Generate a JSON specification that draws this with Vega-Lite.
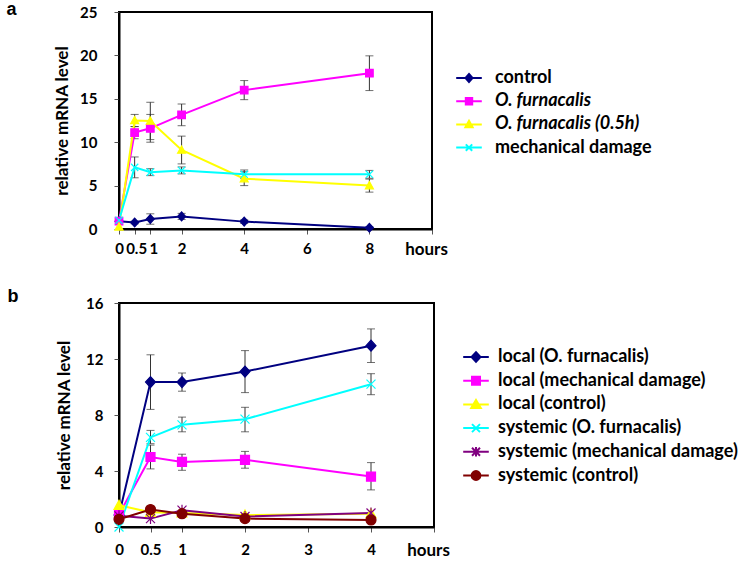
{
"$schema": "https://vega.github.io/schema/vega-lite/v6.json",
"padding": {"left": 5, "top": 0, "right": 0, "bottom": 0},
"spacing": 29,
"config": {
  "font": "Lato",
  "view": {"stroke": "#000", "strokeWidth": 2},
  "axis": {"labelFont": "Lato", "labelFontSize": 15, "labelFontWeight": "bold", "labelColor": "#000", "titleFont": "Lato", "titleFontSize": 17, "titleFontWeight": "bold", "titleColor": "#000", "domainColor": "#000", "domainWidth": 2, "tickColor": "#555", "tickSize": 5, "grid": false, "labelOverlap": false, "labelFlush": false},
  "title": {"font": "Liberation Sans", "fontSize": 18, "fontWeight": "bold", "color": "#000"}
},
"datasets": {
  "a": [
    {"series": "control", "t": 0, "v": 0.9},
    {"series": "control", "t": 0.5, "v": 0.75, "lo": 0.6, "hi": 0.9},
    {"series": "control", "t": 1, "v": 1.15, "lo": 0.55, "hi": 1.75},
    {"series": "control", "t": 2, "v": 1.45, "lo": 1.1, "hi": 1.8},
    {"series": "control", "t": 4, "v": 0.85, "lo": 0.65, "hi": 1.05},
    {"series": "control", "t": 8, "v": 0.15, "lo": 0.05, "hi": 0.25},
    {"series": "O. furnacalis", "t": 0, "v": 0.9},
    {"series": "O. furnacalis", "t": 0.5, "v": 11.1, "lo": 10.4, "hi": 11.8},
    {"series": "O. furnacalis", "t": 1, "v": 11.6, "lo": 10.0, "hi": 13.2},
    {"series": "O. furnacalis", "t": 2, "v": 13.15, "lo": 11.9, "hi": 14.4},
    {"series": "O. furnacalis", "t": 4, "v": 16.0, "lo": 14.9, "hi": 17.1},
    {"series": "O. furnacalis", "t": 8, "v": 17.95, "lo": 15.95, "hi": 19.95},
    {"series": "O. furnacalis (0.5h)", "t": 0, "v": 0.25},
    {"series": "O. furnacalis (0.5h)", "t": 0.5, "v": 12.5, "lo": 11.8, "hi": 13.2},
    {"series": "O. furnacalis (0.5h)", "t": 1, "v": 12.45, "lo": 10.3, "hi": 14.6},
    {"series": "O. furnacalis (0.5h)", "t": 2, "v": 9.1, "lo": 7.5, "hi": 10.7},
    {"series": "O. furnacalis (0.5h)", "t": 4, "v": 5.8, "lo": 5.0, "hi": 6.6},
    {"series": "O. furnacalis (0.5h)", "t": 8, "v": 5.0, "lo": 4.25, "hi": 5.75},
    {"series": "mechanical damage", "t": 0, "v": 1.0},
    {"series": "mechanical damage", "t": 0.5, "v": 7.1, "lo": 5.9, "hi": 8.3},
    {"series": "mechanical damage", "t": 1, "v": 6.55, "lo": 6.15, "hi": 6.95},
    {"series": "mechanical damage", "t": 2, "v": 6.75, "lo": 6.35, "hi": 7.15},
    {"series": "mechanical damage", "t": 4, "v": 6.3, "lo": 5.8, "hi": 6.8},
    {"series": "mechanical damage", "t": 8, "v": 6.3, "lo": 5.85, "hi": 6.75}
  ],
  "b": [
    {"series": "local (O. furnacalis)", "t": 0, "v": 0.85},
    {"series": "local (O. furnacalis)", "t": 0.5, "v": 10.35, "lo": 8.4, "hi": 12.3},
    {"series": "local (O. furnacalis)", "t": 1, "v": 10.35, "lo": 9.7, "hi": 11.0},
    {"series": "local (O. furnacalis)", "t": 2, "v": 11.1, "lo": 9.6, "hi": 12.6},
    {"series": "local (O. furnacalis)", "t": 4, "v": 12.95, "lo": 11.75, "hi": 14.15},
    {"series": "local (mechanical damage)", "t": 0, "v": 0.9},
    {"series": "local (mechanical damage)", "t": 0.5, "v": 5.0, "lo": 4.15, "hi": 5.85},
    {"series": "local (mechanical damage)", "t": 1, "v": 4.65, "lo": 4.05, "hi": 5.2},
    {"series": "local (mechanical damage)", "t": 2, "v": 4.8, "lo": 4.2, "hi": 5.4},
    {"series": "local (mechanical damage)", "t": 4, "v": 3.6, "lo": 2.65, "hi": 4.6},
    {"series": "local (control)", "t": 0, "v": 1.55},
    {"series": "local (control)", "t": 0.5, "v": 1.05},
    {"series": "local (control)", "t": 1, "v": 1.0},
    {"series": "local (control)", "t": 2, "v": 0.85},
    {"series": "local (control)", "t": 4, "v": 0.95},
    {"series": "systemic (O. furnacalis)", "t": 0, "v": 0.0},
    {"series": "systemic (O. furnacalis)", "t": 0.5, "v": 6.4, "lo": 5.95, "hi": 6.9},
    {"series": "systemic (O. furnacalis)", "t": 1, "v": 7.3, "lo": 6.8, "hi": 7.85},
    {"series": "systemic (O. furnacalis)", "t": 2, "v": 7.7, "lo": 6.8, "hi": 8.55},
    {"series": "systemic (O. furnacalis)", "t": 4, "v": 10.2, "lo": 9.45, "hi": 10.95},
    {"series": "systemic (mechanical damage)", "t": 0, "v": 0.8},
    {"series": "systemic (mechanical damage)", "t": 0.5, "v": 0.6},
    {"series": "systemic (mechanical damage)", "t": 1, "v": 1.2},
    {"series": "systemic (mechanical damage)", "t": 2, "v": 0.75},
    {"series": "systemic (mechanical damage)", "t": 4, "v": 1.0},
    {"series": "systemic (control)", "t": 0, "v": 0.55},
    {"series": "systemic (control)", "t": 0.5, "v": 1.25},
    {"series": "systemic (control)", "t": 1, "v": 0.95},
    {"series": "systemic (control)", "t": 2, "v": 0.6},
    {"series": "systemic (control)", "t": 4, "v": 0.5}
  ]
},
"vconcat": [
  {
    "width": 313, "height": 217,
    "title": {"text": "a", "orient": "left", "anchor": "end", "frame": "group", "angle": 0, "align": "left", "baseline": "alphabetic", "offset": 37, "dy": 3},
    "data": {"name": "a"},
    "resolve": {"scale": {"color": "independent", "fill": "independent", "stroke": "independent", "shape": "independent"}},
    "encoding": {
      "x": {"field": "t", "type": "quantitative", "scale": {"domain": [0, 10], "nice": false},
        "axis": {"title": null, "values": [0, 0.5, 1, 2, 4, 6, 8, 10], "format": "~g", "labelPadding": 7, "labelExpr": "datum.value == 10 ? 'hours' : datum.label",
          "labelFontSize": {"condition": {"test": "datum.value == 10", "value": 17}, "value": 15},
          "labelOffset": {"condition": [{"test": "datum.value == 10", "value": -6}, {"test": "datum.value == 1", "value": 3}, {"test": "datum.value == 0.5", "value": 1.5}], "value": 0}}}
    },
    "layer": [
      {"transform": [{"filter": "isValid(datum.lo)"}], "mark": {"type": "rule", "color": "#333", "strokeWidth": 1},
       "encoding": {"y": {"field": "lo", "type": "quantitative"}, "y2": {"field": "hi"}}},
      {"transform": [{"filter": "isValid(datum.lo)"}], "mark": {"type": "tick", "orient": "horizontal", "size": 8, "thickness": 1, "color": "#333"},
       "encoding": {"y": {"field": "lo", "type": "quantitative"}}},
      {"transform": [{"filter": "isValid(datum.lo)"}], "mark": {"type": "tick", "orient": "horizontal", "size": 8, "thickness": 1, "color": "#333"},
       "encoding": {"y": {"field": "hi", "type": "quantitative"}}},
      {"mark": {"type": "line", "strokeWidth": 2},
       "encoding": {
         "y": {"field": "v", "type": "quantitative", "scale": {"domain": [0, 25], "nice": false},
           "axis": {"title": "relative mRNA level", "values": [0, 5, 10, 15, 20, 25], "labelPadding": 17, "titlePadding": 8}},
         "color": {"field": "series", "type": "nominal", "legend": null,
           "scale": {"domain": ["control", "O. furnacalis", "O. furnacalis (0.5h)", "mechanical damage"], "range": ["#000080", "#FF00FF", "#FFFF00", "#00FFFF"]}}
       }},
      {"mark": {"type": "point", "filled": true, "size": 64, "strokeWidth": 1.2, "opacity": 1},
       "encoding": {
         "y": {"field": "v", "type": "quantitative"},
         "fill": {"field": "series", "type": "nominal", "legend": null,
           "scale": {"domain": ["control", "O. furnacalis", "O. furnacalis (0.5h)", "mechanical damage"], "range": ["#000080", "#FF00FF", "#FFFF00", "#00FFFF"]}},
         "stroke": {"field": "series", "type": "nominal", "legend": null,
           "scale": {"domain": ["control", "O. furnacalis", "O. furnacalis (0.5h)", "mechanical damage"], "range": ["#000080", "#FF00FF", "#FFFF00", "#00FFFF"]}},
         "shape": {"field": "series", "type": "nominal", "legend": null,
           "scale": {"domain": ["control", "O. furnacalis", "O. furnacalis (0.5h)", "mechanical damage"],
             "range": ["M0,-1.1L1,0L0,1.1L-1,0Z", "M-0.95,-0.95H0.95V0.95H-0.95Z", "M0,-1L1,0.8H-1Z", "M-0.9,-0.9L0.9,0.9M-0.9,0.9L0.9,-0.9"]}}
       }},
      {"transform": [{"filter": "datum.t < 0"}],
       "mark": {"type": "point", "filled": true, "size": 256, "opacity": 1},
       "encoding": {
         "y": {"field": "v", "type": "quantitative"},
         "fill": {"field": "series", "type": "nominal",
           "scale": {"domain": ["control", "O. furnacalis", "O. furnacalis (0.5h)", "mechanical damage"], "range": ["#000080", "#FF00FF", "#FFFF00", "#00FFFF"]},
           "legend": {"orient": "none", "legendX": 341, "legendY": 57, "title": null, "symbolSize": 256, "symbolStrokeWidth": 2, "labelFont": "Lato", "labelFontSize": 18, "labelFontWeight": "bold", "labelColor": "#000", "labelOffset": 17, "rowPadding": 5.2, "padding": 0, "labelLimit": 400,
             "labelFontStyle": {"expr": "indexof(datum.label, 'O. furnacalis') === 0 ? 'italic' : 'normal'"}}},
         "stroke": {"field": "series", "type": "nominal",
           "scale": {"domain": ["control", "O. furnacalis", "O. furnacalis (0.5h)", "mechanical damage"], "range": ["#000080", "#FF00FF", "#FFFF00", "#00FFFF"]},
           "legend": {"orient": "none", "legendX": 341, "legendY": 57, "title": null, "symbolSize": 256, "symbolStrokeWidth": 2, "labelFont": "Lato", "labelFontSize": 18, "labelFontWeight": "bold", "labelColor": "#000", "labelOffset": 17, "rowPadding": 5.2, "padding": 0, "labelLimit": 400,
             "labelFontStyle": {"expr": "indexof(datum.label, 'O. furnacalis') === 0 ? 'italic' : 'normal'"}}},
         "shape": {"field": "series", "type": "nominal",
           "scale": {"domain": ["control", "O. furnacalis", "O. furnacalis (0.5h)", "mechanical damage"],
             "range": ["M-1.6,0H1.6M0,-0.5L0.44,0L0,0.5L-0.44,0Z", "M-1.6,0H1.6M-0.4,-0.4H0.4V0.4H-0.4Z", "M-1.6,0H1.6M0,-0.45L0.45,0.35H-0.45Z", "M-1.6,0H1.6M-0.4,-0.4L0.4,0.4M-0.4,0.4L0.4,-0.4"]},
           "legend": {"orient": "none", "legendX": 341, "legendY": 57, "title": null, "symbolSize": 256, "symbolStrokeWidth": 2, "labelFont": "Lato", "labelFontSize": 18, "labelFontWeight": "bold", "labelColor": "#000", "labelOffset": 17, "rowPadding": 5.2, "padding": 0, "labelLimit": 400,
             "labelFontStyle": {"expr": "indexof(datum.label, 'O. furnacalis') === 0 ? 'italic' : 'normal'"}}}
       }}
    ]
  },
  {
    "width": 315, "height": 224,
    "title": {"text": "b", "orient": "left", "anchor": "end", "frame": "group", "angle": 0, "align": "left", "baseline": "alphabetic", "offset": 37, "dy": -1},
    "data": {"name": "b"},
    "resolve": {"scale": {"color": "independent", "fill": "independent", "stroke": "independent", "shape": "independent"}},
    "encoding": {
      "x": {"field": "t", "type": "quantitative", "scale": {"domain": [0, 5], "nice": false},
        "axis": {"title": null, "values": [0, 0.5, 1, 2, 3, 4, 5], "format": "~g", "labelPadding": 10, "labelExpr": "datum.value == 5 ? 'hours' : datum.label",
          "labelFontSize": {"condition": {"test": "datum.value == 5", "value": 17}, "value": 15},
          "labelOffset": {"condition": {"test": "datum.value == 5", "value": -6}, "value": 0}}}
    },
    "layer": [
      {"transform": [{"filter": "isValid(datum.lo)"}], "mark": {"type": "rule", "color": "#333", "strokeWidth": 1},
       "encoding": {"y": {"field": "lo", "type": "quantitative"}, "y2": {"field": "hi"}}},
      {"transform": [{"filter": "isValid(datum.lo)"}], "mark": {"type": "tick", "orient": "horizontal", "size": 8, "thickness": 1, "color": "#333"},
       "encoding": {"y": {"field": "lo", "type": "quantitative"}}},
      {"transform": [{"filter": "isValid(datum.lo)"}], "mark": {"type": "tick", "orient": "horizontal", "size": 8, "thickness": 1, "color": "#333"},
       "encoding": {"y": {"field": "hi", "type": "quantitative"}}},
      {"mark": {"type": "line", "strokeWidth": 2},
       "encoding": {
         "y": {"field": "v", "type": "quantitative", "scale": {"domain": [0, 16], "nice": false},
           "axis": {"title": "relative mRNA level", "values": [0, 2, 4, 6, 8, 10, 12, 14, 16], "labelExpr": "datum.value % 4 == 0 ? datum.label : ''", "labelPadding": 11, "titlePadding": 12}},
         "color": {"field": "series", "type": "nominal", "legend": null,
           "scale": {"domain": ["local (O. furnacalis)", "local (mechanical damage)", "local (control)", "systemic (O. furnacalis)", "systemic (mechanical damage)", "systemic (control)"], "range": ["#000080", "#FF00FF", "#FFFF00", "#00FFFF", "#800080", "#800000"]}}
       }},
      {"mark": {"type": "point", "filled": true, "size": 100, "strokeWidth": 1.2, "opacity": 1},
       "encoding": {
         "y": {"field": "v", "type": "quantitative"},
         "fill": {"field": "series", "type": "nominal", "legend": null,
           "scale": {"domain": ["local (O. furnacalis)", "local (mechanical damage)", "local (control)", "systemic (O. furnacalis)", "systemic (mechanical damage)", "systemic (control)"], "range": ["#000080", "#FF00FF", "#FFFF00", "#00FFFF", "#800080", "#800000"]}},
         "stroke": {"field": "series", "type": "nominal", "legend": null,
           "scale": {"domain": ["local (O. furnacalis)", "local (mechanical damage)", "local (control)", "systemic (O. furnacalis)", "systemic (mechanical damage)", "systemic (control)"], "range": ["#000080", "#FF00FF", "#FFFF00", "#00FFFF", "#800080", "#800000"]}},
         "shape": {"field": "series", "type": "nominal", "legend": null,
           "scale": {"domain": ["local (O. furnacalis)", "local (mechanical damage)", "local (control)", "systemic (O. furnacalis)", "systemic (mechanical damage)", "systemic (control)"],
             "range": ["M0,-1.1L1,0L0,1.1L-1,0Z", "M-0.9,-0.9H0.9V0.9H-0.9Z", "M0,-1L1,0.8H-1Z", "M-0.9,-0.9L0.9,0.9M-0.9,0.9L0.9,-0.9", "M-0.9,-0.9L0.9,0.9M-0.9,0.9L0.9,-0.9M0,-1.1V1.1", "M-1,0A1,1 0 1,1 1,0A1,1 0 1,1 -1,0Z"]}}
       }},
      {"transform": [{"filter": "datum.t < 0"}],
       "mark": {"type": "point", "filled": true, "size": 256, "opacity": 1},
       "encoding": {
         "y": {"field": "v", "type": "quantitative"},
         "fill": {"field": "series", "type": "nominal",
           "scale": {"domain": ["local (O. furnacalis)", "local (mechanical damage)", "local (control)", "systemic (O. furnacalis)", "systemic (mechanical damage)", "systemic (control)"], "range": ["#000080", "#FF00FF", "#FFFF00", "#00FFFF", "#800080", "#800000"]},
           "legend": {"orient": "none", "legendX": 348, "legendY": 45, "title": null, "symbolSize": 256, "symbolStrokeWidth": 2, "labelFont": "Lato", "labelFontSize": 18, "labelFontWeight": "bold", "labelColor": "#000", "labelOffset": 13, "rowPadding": 5.7, "padding": 0, "labelLimit": 400}},
         "stroke": {"field": "series", "type": "nominal",
           "scale": {"domain": ["local (O. furnacalis)", "local (mechanical damage)", "local (control)", "systemic (O. furnacalis)", "systemic (mechanical damage)", "systemic (control)"], "range": ["#000080", "#FF00FF", "#FFFF00", "#00FFFF", "#800080", "#800000"]},
           "legend": {"orient": "none", "legendX": 348, "legendY": 45, "title": null, "symbolSize": 256, "symbolStrokeWidth": 2, "labelFont": "Lato", "labelFontSize": 18, "labelFontWeight": "bold", "labelColor": "#000", "labelOffset": 13, "rowPadding": 5.7, "padding": 0, "labelLimit": 400}},
         "shape": {"field": "series", "type": "nominal",
           "scale": {"domain": ["local (O. furnacalis)", "local (mechanical damage)", "local (control)", "systemic (O. furnacalis)", "systemic (mechanical damage)", "systemic (control)"],
             "range": ["M-1.6,0H1.6M0,-0.6L0.56,0L0,0.6L-0.56,0Z", "M-1.6,0H1.6M-0.5,-0.5H0.5V0.5H-0.5Z", "M-1.6,0H1.6M0,-0.55L0.6,0.45H-0.6Z", "M-1.6,0H1.6M-0.5,-0.5L0.5,0.5M-0.5,0.5L0.5,-0.5", "M-1.6,0H1.6M-0.5,-0.5L0.5,0.5M-0.5,0.5L0.5,-0.5M0,-0.6V0.6", "M-1.6,0H1.6M-0.55,0A0.55,0.55 0 1,1 0.55,0A0.55,0.55 0 1,1 -0.55,0Z"]},
           "legend": {"orient": "none", "legendX": 348, "legendY": 45, "title": null, "symbolSize": 256, "symbolStrokeWidth": 2, "labelFont": "Lato", "labelFontSize": 18, "labelFontWeight": "bold", "labelColor": "#000", "labelOffset": 13, "rowPadding": 5.7, "padding": 0, "labelLimit": 400}}
       }}
    ]
  }
]
}
